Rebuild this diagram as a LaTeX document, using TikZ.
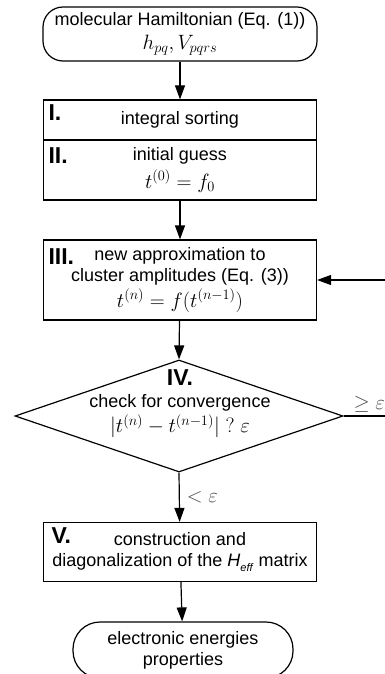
\documentclass[tikz,border=0pt]{standalone}
\usepackage[no-math]{fontspec}
\setmainfont{Liberation Sans}
\usetikzlibrary{arrows.meta,shapes.geometric}
\newcommand{\mth}[1]{{\fontsize{21}{24}\selectfont$#1$}}
\newcommand{\heff}{\textit{H}\raisebox{-0.6ex}{\fontsize{11}{11}\selectfont\textit{eff}}}
\begin{document}
\begin{tikzpicture}
	[x=1pt,y=-1pt,
	 terminal/.style={draw,rounded corners=20,minimum width=274,minimum height=54,align=center,inner sep=0,font=\fontsize{18}{21}\selectfont},
	 stepbox/.style={draw,minimum width=273,align=center,inner sep=0,font=\fontsize{18}{21}\selectfont},
	 numeral/.style={anchor=north west,inner sep=0,font=\bfseries\fontsize{23}{26}\selectfont},
	 decision/.style={draw,diamond,minimum width=328,minimum height=112,inner sep=0},
	 cond/.style={text=black!70,inner sep=3},
	 line width=1.2pt,>={Triangle[length=14pt,width=10pt]}]
    \useasboundingbox (0,0) rectangle (385,674);
    \node[terminal] (ham) at (180,34) {molecular Hamiltonian (Eq. (1))\\[3pt]\mth{h_{pq}, V_{pqrs}}};
    \node[stepbox,minimum height=40] (sort) at (180,120) {integral sorting};
    \node[stepbox,minimum height=60] (guess) at (180,170) {initial guess\\[4pt]\mth{t^{(0)} = f_0}};
    \node[stepbox,minimum height=80] (ampl) at (180,280) {new approximation to\\cluster amplitudes (Eq. (3))\\[3pt]\mth{t^{(n)} = f(t^{(n-1)})}};
    \node[decision] (conv) at (179,416) {};
    \node[align=center,inner sep=0,font=\fontsize{18}{21}\selectfont] (convtext) at (180,404)
        {{\bfseries\fontsize{23}{26}\selectfont IV.}\\[1pt]check for convergence\\[2pt]\mth{|t^{(n)} - t^{(n-1)}| \mathrel{?} \varepsilon}};
    \node[stepbox,minimum height=59] (heff) at (180,552) {construction and\\diagonalization of the \heff{} matrix};
    \node[terminal,minimum width=220,minimum height=56,rounded corners=27] (res) at (183,650) {electronic energies\\properties};
    \node[numeral] (nI) at ([shift={(5,5)}]sort.north west) {I.};
    \node[numeral] (nII) at ([shift={(5,8)}]guess.north west) {II.};
    \node[numeral] (nIII) at ([shift={(5,9)}]ampl.north west) {III.};
    \node[numeral] (nV) at ([shift={(8,5)}]heff.north west) {V.};
    \coordinate (back) at (395,416);
    \draw [->] (ham) -- (sort);
    \draw [->] (guess) -- (ampl);
    \draw [->] (ampl) -- (conv.north);
    \draw [->] (conv.south) -- node[cond,right,xshift=4] {\mth{<\varepsilon}} (heff);
    \draw [->] (heff) -- (res);
    \draw [->] (conv.east) -- node[cond,above] {\mth{\geq\varepsilon}} (back) |- (ampl.east);
\end{tikzpicture}
\end{document}
